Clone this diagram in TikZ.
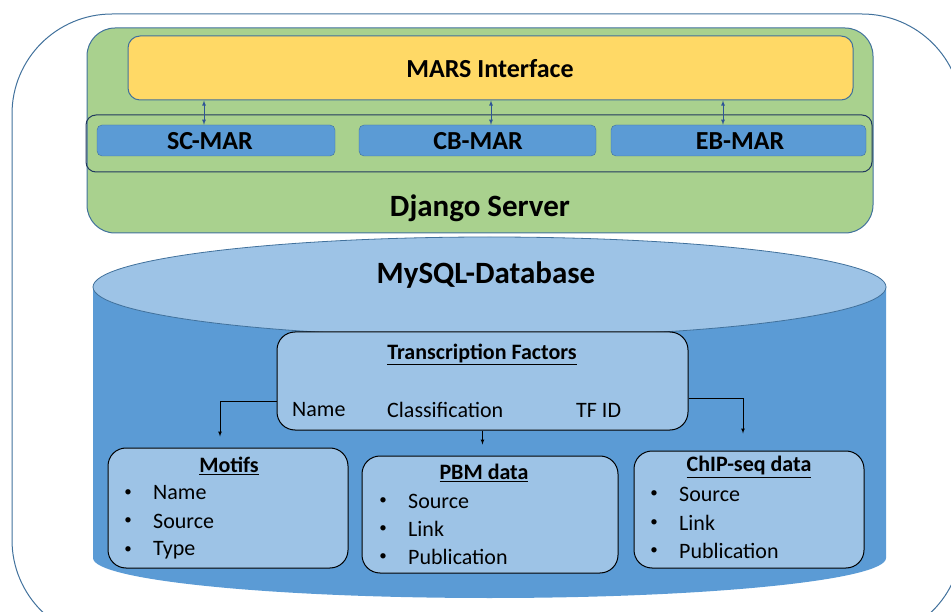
\documentclass[tikz,border=0pt]{standalone}
\usepackage{fontspec}
\setmainfont{Carlito}
\usetikzlibrary{shapes.geometric}
\definecolor{frameblue}{HTML}{41719C}
\definecolor{serverg}{HTML}{A9D18E}
\definecolor{ifacey}{HTML}{FFD966}
\definecolor{marblue}{HTML}{5B9BD5}
\definecolor{dblight}{HTML}{9DC3E6}
\definecolor{rownavy}{HTML}{223A5E}
\definecolor{arrblue}{HTML}{2F5597}
\begin{document}
\begin{tikzpicture}[x=1pt,y=-1pt,
  marbox/.style={rectangle, rounded corners=5pt, draw=frameblue, fill=marblue, minimum width=#1, minimum height=31pt, inner sep=0pt},
  tablebox/.style={rectangle, rounded corners=18pt, draw=black, line width=1pt, fill=dblight, inner sep=0pt},
  bigtxt/.style={font=\fontsize{31}{36}\selectfont\bfseries},
  midtxt/.style={font=\fontsize{26}{30}\selectfont\bfseries},
  headtxt/.style={font=\fontsize{22}{26}\selectfont\bfseries},
  itemtxt/.style={font=\fontsize{22}{26}\selectfont, anchor=west, inner sep=0pt},
  dot/.style={font=\fontsize{15}{18}\selectfont, inner sep=0pt},
  dblarrow/.style={<->, >=latex, draw=arrblue, line width=0.8pt},
  fkarrow/.style={->, >=latex, draw=black, line width=0.7pt}]
\useasboundingbox (0,0) rectangle (951,612);
\clip (0,0) rectangle (951,612);
% outer frame
\draw[frameblue, line width=1pt, rounded corners=100pt] (12,14) rectangle (962,640);
% server
\node[rectangle, rounded corners=28pt, draw=frameblue, fill=serverg, line width=1pt, minimum width=786pt, minimum height=205pt] (django) at (480,130.5){};
\node[bigtxt] (djangotxt) at (480,208){Django Server};
\node[rectangle, rounded corners=12pt, draw=frameblue, fill=ifacey, line width=1pt, minimum width=725pt, minimum height=64pt] (mars) at (490.5,68){};
\node[midtxt] (marstxt) at (490,69){MARS Interface};
\node[rectangle, rounded corners=10pt, draw=rownavy, line width=1pt, minimum width=786pt, minimum height=57pt] (marrow) at (479,143.5){};
\node[marbox=238pt] (sc) at (216,140.5){};
\node[marbox=237pt] (cb) at (477.5,140.5){};
\node[marbox=255pt] (eb) at (738.5,140.5){};
\node[midtxt] (sctxt) at (210,141){SC-MAR};
\node[midtxt] (cbtxt) at (478,141){CB-MAR};
\node[midtxt] (ebtxt) at (740,141){EB-MAR};
\draw[dblarrow] ([xshift=-12pt]sc.north) -- ([xshift=-12pt]sc.north |- mars.south);
\draw[dblarrow] ([xshift=13.5pt]cb.north) -- ([xshift=13.5pt]cb.north |- mars.south);
\draw[dblarrow] ([xshift=-15.5pt]eb.north) -- ([xshift=-15.5pt]eb.north |- mars.south);
% database
\fill[marblue] (93,287) -- (93,558) arc[start angle=180, end angle=0, x radius=396.5, y radius=40] -- (886,287) -- cycle;
\node[ellipse, draw=frameblue, fill=dblight, line width=0.8pt, minimum width=793pt, minimum height=100pt, inner sep=0pt] (dbtop) at (489.5,287){};
\node[bigtxt] (dbtxt) at (486,275){MySQL-Database};
% tables
\node[tablebox, minimum width=411pt, minimum height=98pt] (tf) at (482.5,381){};
\node[headtxt] (tfhead) at (482,354){\underline{Transcription Factors}};
\node[itemtxt] (tfname) at (292,410){Name};
\node[itemtxt] (tfclass) at (387,410){Classification};
\node[itemtxt] (tfid) at (576,410){TF ID};
\node[tablebox, minimum width=240pt, minimum height=120pt] (motifs) at (228,508){};
\node[headtxt] (motifshead) at (229,466){\underline{Motifs}};
\node[dot] (mb1) at (128,493){\textbullet};
\node[itemtxt] (mt1) at (153,493){Name};
\node[dot] (mb2) at (128,521){\textbullet};
\node[itemtxt] (mt2) at (153,521){Source};
\node[dot] (mb3) at (128,550){\textbullet};
\node[itemtxt] (mt3) at (153,550){Type};
\node[tablebox, minimum width=256pt, minimum height=117pt] (pbm) at (490,514.5){};
\node[headtxt] (pbmhead) at (484,473){\underline{PBM data}};
\node[dot] (pb1) at (383,501){\textbullet};
\node[itemtxt] (pt1) at (408,501){Source};
\node[dot] (pb2) at (383,529){\textbullet};
\node[itemtxt] (pt2) at (408,529){Link};
\node[dot] (pb3) at (383,557){\textbullet};
\node[itemtxt] (pt3) at (408,557){Publication};
\node[tablebox, minimum width=230pt, minimum height=117pt] (chip) at (749,509.5){};
\node[headtxt] (chiphead) at (749,467){\underline{ChIP-seq data}};
\node[dot] (cb1) at (654,494){\textbullet};
\node[itemtxt] (ct1) at (679,494){Source};
\node[dot] (cb2) at (654,523){\textbullet};
\node[itemtxt] (ct2) at (679,523){Link};
\node[dot] (cb3) at (654,551){\textbullet};
\node[itemtxt] (ct3) at (679,551){Publication};
\draw[fkarrow, shorten >=11pt] ([yshift=-20pt]tf.west) -| ([xshift=-8pt]motifs.north);
\draw[fkarrow, shorten >=11pt] (tf.south) -- (tf.south |- pbm.north);
\draw[fkarrow, shorten >=17pt] ([yshift=-17pt]tf.east) -| ([xshift=-6pt]chip.north);
\end{tikzpicture}
\end{document}
